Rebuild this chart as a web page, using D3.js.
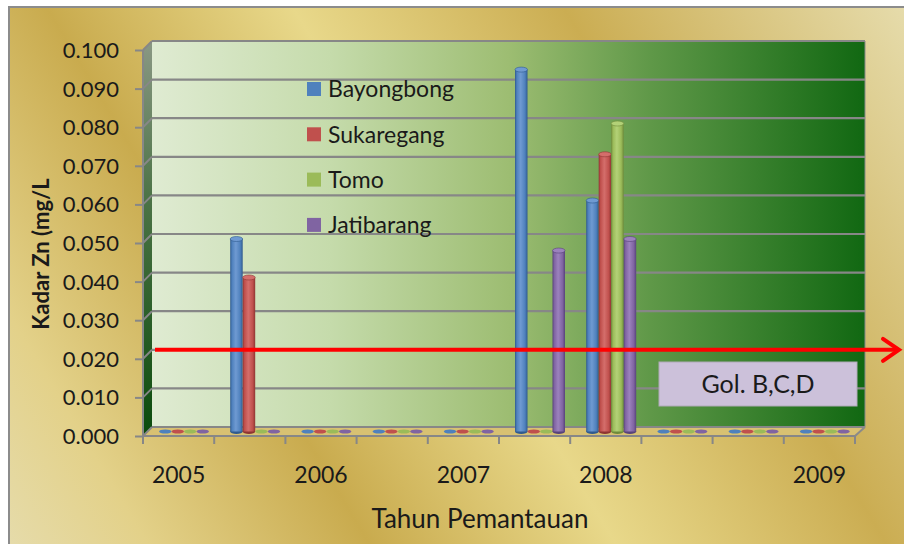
<!DOCTYPE html>
<html><head><meta charset="utf-8">
<script src="https://cdn.jsdelivr.net/npm/d3@7"></script>
<style>html,body{margin:0;padding:0;background:#fff;}svg{display:block;font-family:Lato,"Noto Sans",sans-serif;}</style>
</head><body>
<svg id="c" width="904" height="544"></svg>
<script>
const categories = ["2005","","2006","","2007","","2008","","","2009"];
const seriesNames = ["Bayongbong","Sukaregang","Tomo","Jatibarang"];
const bayongbong = [0,0.050,0,0,0,0.094,0.060,0,0,0];
const sukaregang = [0,0.040,0,0,0,0,0.072,0,0,0];
const tomo       = [0,0,0,0,0,0,0.080,0,0,0];
const jatibarang = [0,0,0,0,0,0.047,0.050,0,0,0];
const yTicks = [0,0.01,0.02,0.03,0.04,0.05,0.06,0.07,0.08,0.09,0.1];
const standardValue = 0.02;
const standardLabel = "Gol. B,C,D";
const xTitle = "Tahun Pemantauan";
const yTitle = "Kadar Zn (mg/L";

const seriesValues = [bayongbong, sukaregang, tomo, jatibarang];
const colors = ["#4f81bd","#c0504d","#9bbb59","#8064a2"];
const darkC = ["#2f5a8e","#8e3532","#6e8b3a","#58437a"];
const lightC = ["#6f9ad2","#d46e6b","#b3d177","#9c82bd"];

const svg = d3.select("#c");
const defs = svg.append("defs");

const bg = defs.append("linearGradient").attr("id","bg").attr("gradientUnits","userSpaceOnUse")
  .attr("x1",0).attr("y1",544).attr("x2",904).attr("y2",0);
[[0,"#e6dcac"],[0.12,"#e3d189"],[0.3,"#c9ab4e"],[0.5,"#e8d88a"],[0.72,"#cbad52"],[1,"#e6dcac"]]
  .forEach(([o,c])=>bg.append("stop").attr("offset",o).attr("stop-color",c));
const wall = defs.append("linearGradient").attr("id","wall").attr("x1",0).attr("x2",1).attr("y1",0).attr("y2",0);
[[0,"#dfebd2"],[0.25,"#c5dbab"],[0.5,"#9dbd72"],[0.7,"#5f9848"],[1,"#116812"]]
  .forEach(([o,c])=>wall.append("stop").attr("offset",o).attr("stop-color",c));
const side = defs.append("linearGradient").attr("id","side").attr("x1",0).attr("x2",0).attr("y1",0).attr("y2",1);
[[0,"#8a9884"],[0.4,"#4c7346"],[1,"#0b4b0c"]].forEach(([o,c])=>side.append("stop").attr("offset",o).attr("stop-color",c));
colors.forEach((c,i)=>{
  const g = defs.append("linearGradient").attr("id","bar"+i).attr("x1",0).attr("x2",1).attr("y1",0).attr("y2",0);
  [[0,darkC[i]],[0.15,c],[0.45,lightC[i]],[0.8,c],[1,darkC[i]]].forEach(([o,cc])=>g.append("stop").attr("offset",o).attr("stop-color",cc));
});

svg.append("rect").attr("x",9).attr("y",7).attr("width",900).attr("height",545)
  .attr("fill","url(#bg)").attr("stroke","#8c8c8c").attr("stroke-width",2);

const dx = 9, dy = 9;
const x = d3.scaleBand().domain(d3.range(categories.length)).range([143,855]).padding(0);
const yFront = d3.scaleLinear().domain([0,0.1]).range([436,50]);
const yBack = d3.scaleLinear().domain([0,0.1]).range([436-dy,50-dy]);
const yMid = d3.scaleLinear().domain([0,0.1]).range([431.5,46.5]);
const xs = d3.scaleBand().domain(d3.range(4)).range([16,66]).padding(0);

const x0 = x.range()[0], x1 = x.range()[1];

svg.append("rect").attr("x",x0+dx).attr("y",yBack(0.1)).attr("width",x1-x0+1).attr("height",yBack(0)-yBack(0.1))
  .attr("fill","url(#wall)");
svg.append("path").attr("d",`M${x0},${yFront(0.1)}L${x0+dx},${yBack(0.1)}L${x0+dx},${yBack(0)}L${x0},${yFront(0)}Z`)
  .attr("fill","url(#side)");
svg.append("path").attr("d",`M${x0},${yFront(0)}L${x0+dx},${yBack(0)}L${x1+dx+1},${yBack(0)}L${x1},${yFront(0)}Z`)
  .attr("fill","#d8c172").attr("stroke","#9a9a8a").attr("stroke-width",1);

yTicks.forEach(t=>{
  svg.append("line").attr("x1",x0+dx).attr("x2",x1+dx+1).attr("y1",yBack(t)).attr("y2",yBack(t))
    .attr("stroke","#878787").attr("stroke-width",2.2);
  svg.append("line").attr("x1",x0).attr("x2",x0+dx).attr("y1",yFront(t)).attr("y2",yBack(t))
    .attr("stroke","#878787").attr("stroke-width",2);
});
svg.append("line").attr("x1",x1+dx+1).attr("x2",x1+dx+1).attr("y1",yBack(0.1)).attr("y2",yBack(0))
  .attr("stroke","#8a8a8a").attr("stroke-width",1);
svg.append("line").attr("x1",x1).attr("x2",x1+dx+1).attr("y1",yFront(0)).attr("y2",yBack(0))
  .attr("stroke","#8a8a8a").attr("stroke-width",2);

const yAxis = d3.axisLeft(yFront).tickValues(yTicks).tickFormat(d3.format(".3f")).tickSize(8).tickPadding(16);
const ya = svg.append("g").attr("transform",`translate(${x0},0)`).call(yAxis);
ya.select(".domain").attr("stroke","#878787").attr("stroke-width",2).attr("d",`M-0,${yFront(0.1)}V${yFront(0)}`);
ya.selectAll(".tick line").attr("stroke","#878787").attr("stroke-width",2);
ya.selectAll(".tick text").attr("font-size",22).attr("fill","#1a1a1a").attr("font-family","Lato").attr("dy","0.34em");

const xa = svg.append("g").attr("transform",`translate(0,${yFront(0)})`);
xa.append("line").attr("x1",x0).attr("x2",x1).attr("y1",0).attr("y2",0).attr("stroke","#878787").attr("stroke-width",2);
d3.range(categories.length+1).forEach(i=>{
  const px = i<categories.length ? x(i) : x1;
  xa.append("line").attr("x1",px).attr("x2",px).attr("y1",0).attr("y2",8).attr("stroke","#878787").attr("stroke-width",2);
});
xa.selectAll("text.cat").data(categories).join("text").attr("class","cat")
  .attr("x",(d,i)=>x(i)+x.bandwidth()/2).attr("y",47).attr("text-anchor","middle")
  .attr("font-size",23).attr("fill","#1a1a1a").text(d=>d);

const leg = svg.append("g");
seriesNames.forEach((n,i)=>{
  const ly = 89 + i*45.3;
  leg.append("rect").attr("x",307).attr("y",ly-7).attr("width",14).attr("height",14).attr("fill",colors[i]);
  leg.append("text").attr("x",328).attr("y",ly).attr("dy","0.36em").attr("font-size",23).attr("fill","#1a1a1a").text(n);
});

const bars = svg.append("g");
seriesValues.forEach((vals,s)=>{
  vals.forEach((v,i)=>{
    const bx = x(i) + xs(s);
    const w = xs.bandwidth();
    const base = yMid(0);
    if (v > 0) {
      const top = yMid(v);
      bars.append("ellipse").attr("cx",bx+w/2).attr("cy",base).attr("rx",w/2).attr("ry",2.5).attr("fill",darkC[s]);
      bars.append("rect").attr("x",bx).attr("y",top).attr("width",w).attr("height",base-top).attr("fill",`url(#bar${s})`);
      bars.append("ellipse").attr("cx",bx+w/2).attr("cy",top).attr("rx",w/2).attr("ry",2.5).attr("fill",lightC[s]).attr("stroke",darkC[s]).attr("stroke-width",0.6);
    } else {
      bars.append("ellipse").attr("cx",bx+w/2).attr("cy",base).attr("rx",w/2).attr("ry",2).attr("fill",colors[s]);
    }
  });
});

const ry = yBack(standardValue);
svg.append("line").attr("x1",155).attr("x2",899).attr("y1",ry).attr("y2",ry).attr("stroke","#ff0000").attr("stroke-width",4);
svg.append("path").attr("d",`M883,${ry-11}L899,${ry}L883,${ry+11}`).attr("fill","none").attr("stroke","#ff0000").attr("stroke-width",4).attr("stroke-linecap","round");

svg.append("rect").attr("x",659).attr("y",362).attr("width",198).attr("height",44).attr("fill","#ccc1da").attr("stroke","#b0aab8").attr("stroke-width",1);
svg.append("text").attr("x",758).attr("y",384).attr("dy","0.36em").attr("text-anchor","middle").attr("font-size",25).attr("fill","#1a1a1a").text(standardLabel);

svg.append("text").attr("x",480).attr("y",528).attr("text-anchor","middle").attr("font-size",26).attr("fill","#1a1a1a").text(xTitle);
svg.append("text").attr("transform","translate(49,254) rotate(-90)").attr("text-anchor","middle").attr("font-size",22).attr("font-weight","bold").attr("fill","#1a1a1a").text(yTitle);
</script>
</body></html>
